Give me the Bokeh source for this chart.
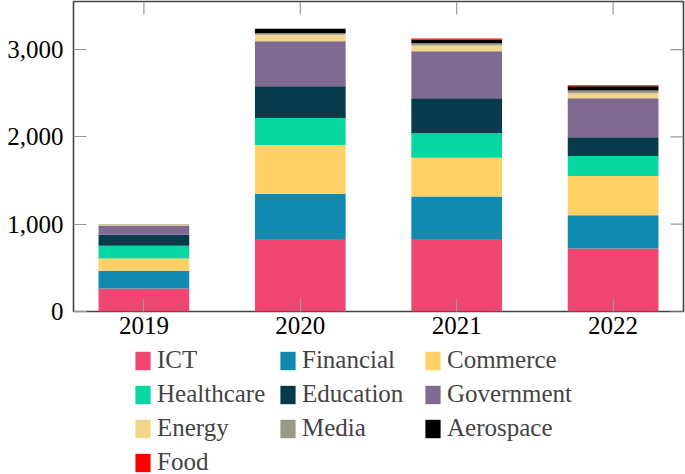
import math
from bokeh.plotting import figure
from bokeh.layouts import column
from bokeh.models import (ColumnDataSource, Range1d, FixedTicker, LinearAxis,
                          NumeralTickFormatter, Legend, LegendItem)
from bokeh.embed import file_html
from bokeh.resources import INLINE

years = ["2019", "2020", "2021", "2022"]
sectors = ["ICT", "Financial", "Commerce", "Healthcare", "Education",
           "Government", "Energy", "Media", "Aerospace", "Food"]
ict = [264, 830, 830, 722]
financial = [203, 519, 488, 379]
commerce = [141, 559, 444, 451]
healthcare = [145, 309, 283, 229]
education = [126, 362, 397, 214]
government = [107, 516, 539, 447]
energy = [10, 74, 65, 57]
media = [6, 18, 26, 31]
aerospace = [0, 50, 39, 49]
food = [0, 0, 15, 12]
y_ticks = [0, 1000, 2000, 3000]

colors = ["#EF476F", "#118AB2", "#FFD166", "#06D6A0", "#073B4C",
          "#7F6A92", "#F4D58D", "#9A998A", "#000000", "#FF0000"]

xs = list(range(len(years)))
data = dict(x=xs, ICT=ict, Financial=financial, Commerce=commerce,
            Healthcare=healthcare, Education=education, Government=government,
            Energy=energy, Media=media, Aerospace=aerospace, Food=food)
source = ColumnDataSource(data)

FONT = "Liberation Serif"
X0, X1 = -0.45, len(years) - 1 + 0.45
Y0, Y1 = 0, 3550

p = figure(width=685, height=346, output_backend="svg", toolbar_location=None,
           x_range=Range1d(X0, X1), y_range=Range1d(Y0, Y1),
           min_border_left=73, min_border_right=2, min_border_top=1,
           min_border_bottom=35, x_axis_location=None, y_axis_location=None)

p.vbar_stack(sectors, x="x", width=0.58, source=source,
             fill_color=colors, line_color=None)

p.xgrid.visible = False
p.ygrid.visible = False
p.outline_line_color = "#444444"
p.outline_line_width = 1.6
p.border_fill_color = "white"

TICK_COLOR = "#999999"

def style_axis(ax):
    ax.axis_line_color = None
    ax.major_tick_in = 13
    ax.major_tick_out = 0
    ax.major_tick_line_color = TICK_COLOR
    ax.major_tick_line_width = 1.2
    ax.minor_tick_line_color = None
    ax.major_label_text_font = FONT
    ax.major_label_text_color = "black"
    ax.major_label_text_font_size = "25px"

xb = LinearAxis(ticker=FixedTicker(ticks=xs),
                major_label_overrides={i: y for i, y in enumerate(years)})
style_axis(xb)
xb.major_label_standoff = 5
yl = LinearAxis(ticker=FixedTicker(ticks=y_ticks),
                formatter=NumeralTickFormatter(format="0,0"))
style_axis(yl)
yl.major_label_standoff = 10
p.add_layout(xb, "below")
p.add_layout(yl, "left")

# mirrored inward ticks on the top and right edges of the frame
p.ray(x=xs, y=[Y1] * len(xs), length=13, length_units="screen",
      angle=-math.pi / 2, line_color=TICK_COLOR, line_width=1.2)
p.ray(x=[X1] * len(y_ticks), y=y_ticks, length=13, length_units="screen",
      angle=math.pi, line_color=TICK_COLOR, line_width=1.2)

# legend strip below the chart (its own figure; hidden copies of the
# stacked bars there only provide the legend swatches)
lp = figure(width=685, height=128, output_backend="svg", toolbar_location=None,
            x_range=Range1d(X0, X1), y_range=Range1d(Y0, Y1),
            min_border_left=73, min_border_right=2, min_border_top=0,
            min_border_bottom=0, x_axis_location=None, y_axis_location=None)
lp.xgrid.visible = False
lp.ygrid.visible = False
lp.outline_line_color = None
lp.border_fill_color = "white"
swatches = lp.vbar_stack(sectors, x="x", width=0.58, source=source,
                         fill_color=colors, line_color=None)
for r in swatches:
    r.visible = False

items = [LegendItem(label=s, renderers=[r]) for s, r in zip(sectors, swatches)]
legend = Legend(items=items, orientation="horizontal", ncols=3,
                location=(60, -2), margin=0, padding=0, spacing=6,
                label_standoff=5, glyph_width=19, glyph_height=23,
                label_width=115,
                label_text_font=FONT, label_text_font_size="25px",
                label_height=28, border_line_color=None,
                background_fill_alpha=0)
lp.add_layout(legend, "center")

layout = column(p, lp, spacing=0)
open("out.html", "w").write(file_html(layout, INLINE))
